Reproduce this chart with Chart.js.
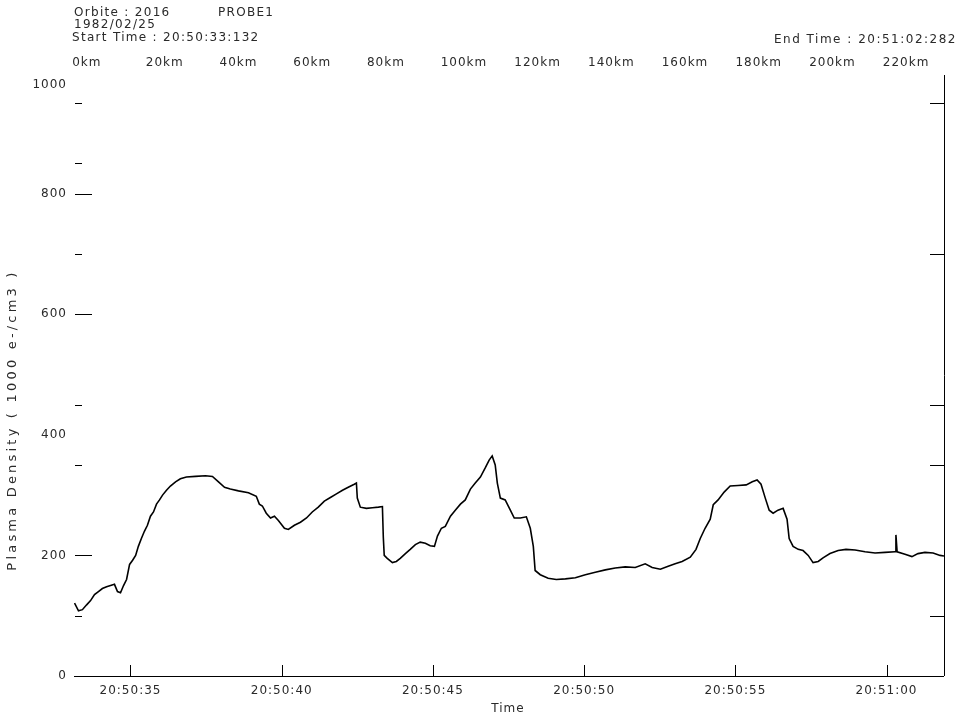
<!DOCTYPE html>
<html>
<head>
<meta charset="utf-8">
<script src="https://cdn.jsdelivr.net/npm/chart.js@4.4.1/dist/chart.umd.min.js"></script>
<style>
html,body{margin:0;padding:0;background:#fff;}
#wrap{width:959px;height:717px;position:relative;}
</style>
</head>
<body>
<div id="wrap"><canvas id="c" width="959" height="717"></canvas></div>
<script>
// ---- data (seconds after 20:50:00, plasma density in 1000 e-/cm3) ----
const timeSec = [33.15,33.28,33.41,33.55,33.68,33.81,33.94,34.07,34.21,34.34,34.47,34.57,34.67,34.77,34.87,34.97,35.07,35.17,35.26,35.36,35.46,35.56,35.66,35.76,35.86,35.96,36.06,36.19,36.32,36.49,36.65,36.85,37.15,37.48,37.71,37.91,38.11,38.30,38.57,38.90,39.16,39.26,39.36,39.49,39.63,39.76,39.89,40.09,40.22,40.42,40.62,40.82,41.01,41.21,41.41,41.61,41.81,42.01,42.20,42.40,42.47,42.50,42.60,42.80,43.00,43.20,43.33,43.36,43.39,43.49,43.66,43.79,43.92,44.09,44.25,44.42,44.58,44.75,44.91,45.05,45.15,45.28,45.41,45.58,45.74,45.91,46.07,46.24,46.40,46.57,46.73,46.86,46.96,47.06,47.13,47.23,47.39,47.56,47.69,47.89,48.09,48.22,48.32,48.38,48.55,48.81,49.08,49.38,49.71,50.04,50.37,50.70,51.03,51.36,51.69,52.02,52.25,52.52,52.78,53.01,53.24,53.51,53.70,53.84,54.00,54.17,54.27,54.43,54.63,54.83,55.09,55.36,55.56,55.72,55.85,55.99,56.12,56.25,56.41,56.58,56.71,56.78,56.91,57.08,57.24,57.41,57.57,57.74,57.90,58.13,58.40,58.66,58.96,59.29,59.62,59.95,60.28,60.31,60.35,60.61,60.84,61.04,61.27,61.54,61.77,61.90];
const density = [121,108,110,118,125,135,140,145,148,150,152,140,138,150,160,185,192,200,215,228,240,250,265,272,285,292,300,308,315,322,327,330,331,332,331,322,313,310,307,304,298,285,282,270,262,265,258,245,243,250,255,262,272,280,290,296,302,308,313,318,320,295,280,278,279,280,281,230,200,195,188,190,195,203,210,218,222,220,216,215,232,245,248,265,275,285,292,310,320,330,345,358,365,350,320,295,292,275,262,262,264,245,215,175,168,162,160,161,163,168,172,176,179,181,180,186,180,177,182,186,190,197,210,228,245,260,284,292,305,315,316,317,322,325,318,295,275,270,275,278,260,228,215,210,208,200,188,190,196,203,208,210,209,206,204,205,206,234,206,202,198,203,205,204,200,199];

const timeTicks = [35, 40, 45, 50, 55, 60];
const timeTickLabels = ['20:50:35','20:50:40','20:50:45','20:50:50','20:50:55','20:51:00'];
const kmTicks = [0,20,40,60,80,100,120,140,160,180,200,220];
const kmTickLabels = ['0km','20km','40km','60km','80km','100km','120km','140km','160km','180km','200km','220km'];
const yLabelValues = [0,200,400,600,800,1000];
const yLabels = ['0','200','400','600','800','1000'];
const yMajorTicks = [0,200,600,800];
const yMinorTicks = [100,350,450,700,850,950];
const yRightTicks = [100,350,450,700,950];
const headerLeft = ['Orbite : 2016', '1982/02/25', 'Start Time : 20:50:33:132'];
const headerProbe = 'PROBE1';
const headerRight = 'End Time : 20:51:02:282';
const yTitle = 'Plasma Density ( 1000 e-/cm3 )';
const xTitle = 'Time';

const points = timeSec.map((t, i) => ({x: t, y: density[i]}));

const decor = {
  id: 'decor',
  afterDraw(chart) {
    const ctx = chart.ctx;
    const xs = chart.scales.x, ys = chart.scales.y, ks = chart.scales.km;
    const a = chart.chartArea;
    ctx.save();
    ctx.fillStyle = '#2a2a2a';
    ctx.strokeStyle = '#000';
    ctx.lineWidth = 1;
    ctx.font = '12px "DejaVu Sans"';
    ctx.letterSpacing = '1.3px';
    ctx.textBaseline = 'middle';
    // header
    ctx.textAlign = 'left';
    ctx.fillText(headerLeft[0], 74, 13);
    ctx.fillText(headerProbe, 218, 13);
    ctx.fillText(headerLeft[1], 74, 25);
    ctx.fillText(headerLeft[2], 72, 38);
    ctx.textAlign = 'right';
    ctx.letterSpacing = '1.5px';
    ctx.fillText(headerRight, 957, 40);
    // km labels
    ctx.textAlign = 'left';
    ctx.letterSpacing = '1px';
    kmTicks.forEach((k, i) => {
      ctx.fillText(kmTickLabels[i], ks.getPixelForValue(k), 63);
    });
    // axes lines
    ctx.beginPath();
    ctx.moveTo(a.left, a.bottom + 0.5); ctx.lineTo(a.right, a.bottom + 0.5);
    ctx.moveTo(a.right + 0.5, a.top + 2); ctx.lineTo(a.right + 0.5, a.bottom);
    // time ticks
    timeTicks.forEach(t => {
      const px = Math.round(xs.getPixelForValue(t)) + 0.5;
      ctx.moveTo(px, a.bottom); ctx.lineTo(px, a.bottom - 11);
    });
    // left ticks
    yMajorTicks.forEach(v => {
      const py = Math.round(ys.getPixelForValue(v)) + 0.5;
      ctx.moveTo(a.left + 1, py); ctx.lineTo(a.left + 18, py);
    });
    yMinorTicks.forEach(v => {
      const py = Math.round(ys.getPixelForValue(v)) + 0.5;
      ctx.moveTo(a.left + 1, py); ctx.lineTo(a.left + 8, py);
    });
    yRightTicks.forEach(v => {
      const py = Math.round(ys.getPixelForValue(v)) + 0.5;
      ctx.moveTo(a.right, py); ctx.lineTo(a.right - 14, py);
    });
    ctx.stroke();
    // time labels
    ctx.textAlign = 'center';
    timeTicks.forEach((t, i) => {
      ctx.fillText(timeTickLabels[i], xs.getPixelForValue(t), 691);
    });
    ctx.fillText(xTitle, 508, 709);
    // y labels
    ctx.textAlign = 'right';
    yLabelValues.forEach((v, i) => {
      let py = ys.getPixelForValue(v);
      if (py < a.top + 12) py = a.top + 12;
      ctx.fillText(yLabels[i], 67, py);
    });
    // y title
    ctx.translate(13, 420);
    ctx.rotate(-Math.PI / 2);
    ctx.textAlign = 'center';
    ctx.font = '13px "DejaVu Sans"';
    ctx.letterSpacing = '3.2px';
    ctx.fillText(yTitle, 0, 0);
    ctx.restore();
  }
};

new Chart(document.getElementById('c'), {
  type: 'line',
  data: {
    datasets: [{
      data: points,
      borderColor: '#000',
      borderWidth: 1.6,
      pointRadius: 0,
      tension: 0,
      fill: false
    }]
  },
  options: {
    responsive: false,
    animation: false,
    parsing: true,
    layout: { padding: { left: 74, right: 15, top: 73, bottom: 41 } },
    plugins: { legend: { display: false }, tooltip: { enabled: false } },
    scales: {
      x: { type: 'linear', min: 33.132, max: 61.9, display: false },
      km: { type: 'linear', axis: 'x', position: 'top', min: 0.5, max: 236.6, display: false },
      y: { type: 'linear', min: 0, max: 1000, display: false }
    }
  },
  plugins: [decor]
});
</script>
</body>
</html>
